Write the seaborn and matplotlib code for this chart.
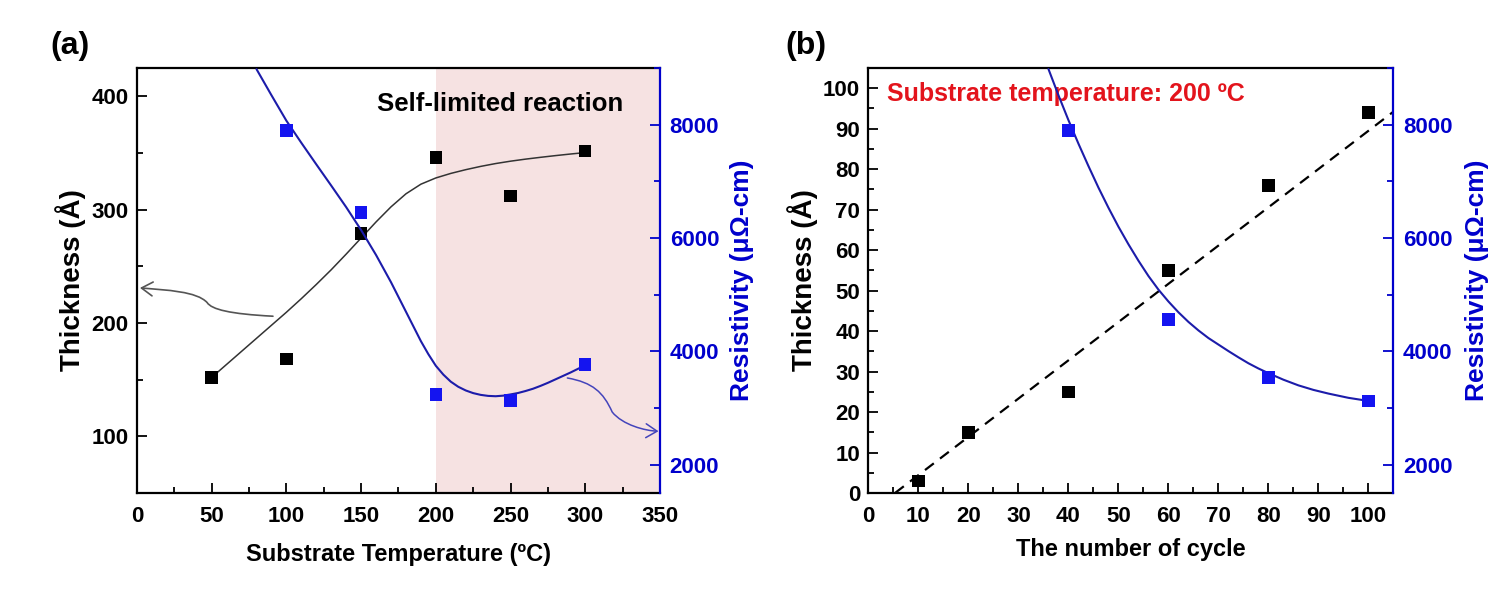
import matplotlib
matplotlib.use("Agg")
import matplotlib.pyplot as plt
import seaborn as sns
from matplotlib.ticker import MultipleLocator
from matplotlib.patches import FancyArrowPatch
from matplotlib.path import Path

# ------------------------------
# data
# ------------------------------
# (a) substrate temperature series
temp = [50, 100, 150, 200, 250, 300]
thick_a = [152, 168, 279, 346, 312, 352]
res_temp = [100, 150, 200, 250, 300]
res_a = [7900, 6450, 3235, 3135, 3765]

# fitted guide curves in (a)
thick_fit_x = [50, 60, 70, 80, 90, 100, 110, 120, 130, 140, 150, 160, 170, 180, 190,
               200, 210, 220, 230, 240, 250, 260, 270, 280, 290, 300]
thick_fit_y = [152, 163.5, 175, 186.5, 198, 209.5, 221.5, 234, 247, 260.8, 275, 289.2, 302.5,
               314, 322.5, 328, 332, 335.3, 338.2, 340.7, 342.8, 344.6, 346.2, 347.7, 349.1, 350.4]
res_fit_x = [80, 90, 100, 110, 120, 130, 140, 150, 160, 170, 180, 190, 195, 200, 205, 210,
             215, 220, 225, 230, 235, 240, 245, 250, 255, 260, 265, 270, 275, 280, 285, 290, 295, 300]
res_fit_y = [8980, 8520, 8070, 7680, 7300, 6925, 6545, 6140, 5700, 5220, 4700, 4180, 3950,
             3745, 3590, 3465, 3375, 3310, 3263, 3232, 3214, 3208, 3218, 3240, 3265, 3300,
             3340, 3390, 3445, 3505, 3565, 3625, 3690, 3755]

# (b) number of cycles series
cycles = [10, 20, 40, 60, 80, 100]
thick_b = [3, 15, 25, 55, 76, 94]
res_cycles = [40, 60, 80, 100]
res_b = [7895, 4560, 3535, 3125]

line_x = [5.3, 105]
line_y = [0, 94.2]
res_fit_bx = [36, 38, 40, 42, 44, 46, 48, 50, 52, 54, 56, 58, 60, 62, 64, 66, 68, 70, 72,
              74, 76, 78, 80, 83, 86, 89, 92, 96, 100]
res_fit_by = [8982, 8520, 8080, 7665, 7270, 6890, 6535, 6200, 5890, 5600, 5330, 5090, 4880,
              4690, 4520, 4370, 4235, 4120, 4005, 3895, 3790, 3698, 3615, 3500, 3400, 3320,
              3255, 3180, 3125]

BLUE_MK = "#1414f0"
BLUE_LN = "#1c1caa"
BLUE_AX = "#0000cc"
RED = "#e3141c"
PINK = "#f6e2e2"

sns.set_style("ticks")
plt.rcParams["font.family"] = ["Liberation Sans", "DejaVu Sans"]
plt.rcParams["text.color"] = "black"
plt.rcParams["axes.labelcolor"] = "black"
plt.rcParams["xtick.color"] = "black"
plt.rcParams["ytick.color"] = "black"

fig = plt.figure(figsize=(15, 5.93), dpi=100)
ax_a = fig.add_axes([0.0913, 0.1686, 0.3487, 0.7167])
ax_b = fig.add_axes([0.579, 0.1686, 0.3499, 0.7167])


def style_axes(ax, ax2):
    for a in (ax, ax2):
        a.tick_params(direction="in", which="both", top=False)
        a.tick_params(which="major", length=7, width=1.3, labelsize=16)
        a.tick_params(which="minor", length=4.5, width=1.3)
    ax.tick_params(axis="x", pad=9)
    ax.tick_params(axis="y", pad=6)
    ax.tick_params(right=False, which="both")
    ax2.tick_params(left=False, colors=BLUE_AX, which="both", pad=7)
    ax.spines["right"].set_visible(False)
    for s in ["left", "bottom", "top"]:
        ax.spines[s].set_linewidth(1.6)
        ax.spines[s].set_color("black")
    ax2.spines["right"].set_color(BLUE_AX)
    ax2.spines["right"].set_linewidth(1.6)
    for s in ["left", "bottom", "top"]:
        ax2.spines[s].set_visible(False)
    ax2.set_ylim(1500, 9000)
    ax2.yaxis.set_major_locator(MultipleLocator(2000))
    ax2.yaxis.set_minor_locator(MultipleLocator(1000))
    for lab in ax.get_xticklabels() + ax.get_yticklabels() + ax2.get_yticklabels():
        lab.set_fontweight("bold")


# ------------------------------
# (a)
# ------------------------------
ax2_a = ax_a.twinx()
ax_a.axvspan(200, 350, color=PINK, lw=0, zorder=0)

sns.lineplot(x=thick_fit_x, y=thick_fit_y, ax=ax_a, color="#333333", lw=1.1,
             sort=False, estimator=None)
sns.scatterplot(x=temp, y=thick_a, ax=ax_a, marker="s", s=80, color="black",
                edgecolor="none", zorder=3)
sns.lineplot(x=res_fit_x, y=res_fit_y, ax=ax2_a, color=BLUE_LN, lw=1.5,
             sort=False, estimator=None)
sns.scatterplot(x=res_temp, y=res_a, ax=ax2_a, marker="s", s=80, color=BLUE_MK,
                edgecolor="none", zorder=3)

ax_a.set_xlim(0, 350)
ax_a.set_ylim(50, 425)
ax_a.xaxis.set_major_locator(MultipleLocator(50))
ax_a.xaxis.set_minor_locator(MultipleLocator(25))
ax_a.yaxis.set_major_locator(MultipleLocator(100))
ax_a.yaxis.set_minor_locator(MultipleLocator(50))
style_axes(ax_a, ax2_a)

ax_a.set_xlabel("Substrate Temperature (ºC)", fontsize=17, fontweight="bold")
ax_a.set_ylabel("Thickness (Å)", fontsize=20, fontweight="bold")
ax2_a.set_ylabel("Resistivity (μΩ-cm)", fontsize=19, fontweight="bold", color=BLUE_AX)
ax_a.xaxis.set_label_coords(0.5, -0.118)
ax_a.yaxis.set_label_coords(-0.0975, 0.5)
ax2_a.yaxis.set_label_coords(1.134, 0.5)

ax_a.text(243, 393, "Self-limited reaction", fontsize=18.5, fontweight="bold",
          ha="center", va="center", color="black")

# curved pointer arrows
p_left = Path([(91, 206), (62, 208), (50, 212), (47, 218), (40, 228), (20, 229), (2, 231)],
              [Path.MOVETO, Path.CURVE4, Path.CURVE4, Path.CURVE4, Path.CURVE4, Path.CURVE4, Path.CURVE4])
ax_a.add_patch(FancyArrowPatch(path=p_left, arrowstyle="->,head_length=8,head_width=5",
                               color="#555555", lw=1.2, zorder=4))
p_right = Path([(288, 3530), (305, 3450), (312, 3280), (318, 2930), (325, 2700), (340, 2600), (349, 2590)],
               [Path.MOVETO, Path.CURVE4, Path.CURVE4, Path.CURVE4, Path.CURVE4, Path.CURVE4, Path.CURVE4])
ax2_a.add_patch(FancyArrowPatch(path=p_right, arrowstyle="->,head_length=8,head_width=5",
                                color="#4444bb", lw=1.1, zorder=4))

# ------------------------------
# (b)
# ------------------------------
ax2_b = ax_b.twinx()
sns.lineplot(x=line_x, y=line_y, ax=ax_b, color="black", lw=1.6, linestyle=(0, (5, 3.5)),
             sort=False, estimator=None)
sns.scatterplot(x=cycles, y=thick_b, ax=ax_b, marker="s", s=80, color="black",
                edgecolor="none", zorder=3)
sns.lineplot(x=res_fit_bx, y=res_fit_by, ax=ax2_b, color=BLUE_LN, lw=1.5,
             sort=False, estimator=None)
sns.scatterplot(x=res_cycles, y=res_b, ax=ax2_b, marker="s", s=80, color=BLUE_MK,
                edgecolor="none", zorder=3)

ax_b.set_xlim(0, 105)
ax_b.set_ylim(0, 105)
ax_b.xaxis.set_major_locator(MultipleLocator(10))
ax_b.xaxis.set_minor_locator(MultipleLocator(5))
ax_b.yaxis.set_major_locator(MultipleLocator(10))
ax_b.yaxis.set_minor_locator(MultipleLocator(5))
style_axes(ax_b, ax2_b)

ax_b.set_xlabel("The number of cycle", fontsize=17, fontweight="bold")
ax_b.set_ylabel("Thickness (Å)", fontsize=20, fontweight="bold")
ax2_b.set_ylabel("Resistivity (μΩ-cm)", fontsize=19, fontweight="bold", color=BLUE_AX)
ax_b.xaxis.set_label_coords(0.5, -0.106)
ax_b.yaxis.set_label_coords(-0.096, 0.5)
ax2_b.yaxis.set_label_coords(1.136, 0.5)

ax_b.text(3.8, 98.5, "Substrate temperature: 200 ºC", fontsize=18, fontweight="bold",
          ha="left", va="center", color=RED)

fig.text(0.047, 0.922, "(a)", fontsize=23, fontweight="bold", ha="center", va="center")
fig.text(0.537, 0.922, "(b)", fontsize=23, fontweight="bold", ha="center", va="center")

fig.savefig("out.png", dpi=100)
